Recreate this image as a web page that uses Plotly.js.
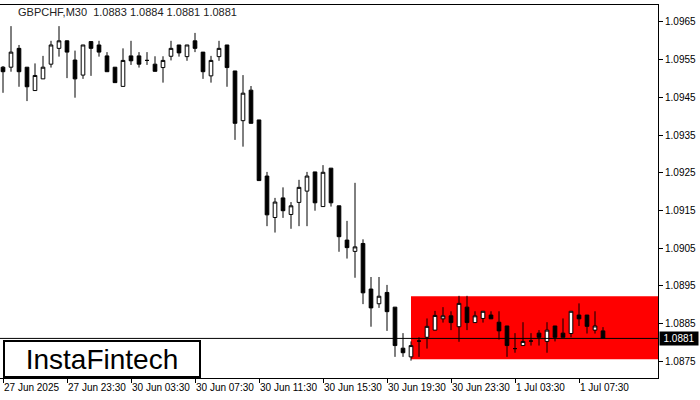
<!DOCTYPE html>
<html>
<head>
<meta charset="utf-8">
<script src="https://cdn.plot.ly/plotly-3.0.1.min.js"></script>
<style>html,body{margin:0;padding:0;background:#fff;}#chart{width:700px;height:400px;}</style>
</head>
<body>
<div id="chart"></div>
<script>
// bar index (M30 bars, first bar = 27 Jun 19:30)
const barIndex = Array.from({length: 76}, (_, i) => i);

const openPrices = [
  1.09530, 1.09530, 1.09580, 1.09530, 1.09468, 1.09499, 1.09538, 1.09580, 1.09600, 1.09549,
  1.09509, 1.09598, 1.09589, 1.09560, 1.09530, 1.09479, 1.09560, 1.09560, 1.09548, 1.09538,
  1.09529, 1.09559, 1.09589, 1.09558, 1.09600, 1.09570, 1.09507, 1.09558, 1.09589, 1.09520,
  1.09388, 1.09469, 1.09390, 1.09241, 1.09131, 1.09183, 1.09139, 1.09171, 1.09201, 1.09252,
  1.09160, 1.09262, 1.09162, 1.09071, 1.09041, 1.09062, 1.08941, 1.08902, 1.08932, 1.08893,
  1.08784, 1.08761, 1.08803, 1.08813, 1.08832, 1.08862, 1.08870, 1.08841, 1.08893, 1.08852,
  1.08863, 1.08872, 1.08853, 1.08843, 1.08783, 1.08791, 1.08803, 1.08824, 1.08802, 1.08843,
  1.08824, 1.08823, 1.08872, 1.08872, 1.08832, 1.08830
];
const highPrices = [
  1.09533, 1.09639, 1.09589, 1.09530, 1.09540, 1.09560, 1.09600, 1.09639, 1.09601, 1.09574,
  1.09589, 1.09598, 1.09600, 1.09570, 1.09530, 1.09580, 1.09600, 1.09570, 1.09570, 1.09559,
  1.09559, 1.09600, 1.09589, 1.09589, 1.09621, 1.09570, 1.09560, 1.09600, 1.09589, 1.09520,
  1.09509, 1.09480, 1.09390, 1.09252, 1.09183, 1.09211, 1.09172, 1.09231, 1.09252, 1.09252,
  1.09270, 1.09262, 1.09162, 1.09122, 1.09223, 1.09073, 1.08973, 1.08973, 1.08952, 1.08893,
  1.08824, 1.08802, 1.08813, 1.08863, 1.08883, 1.08893, 1.08882, 1.08923, 1.08923, 1.08882,
  1.08882, 1.08882, 1.08882, 1.08843, 1.08824, 1.08853, 1.08824, 1.08832, 1.08853, 1.08843,
  1.08863, 1.08882, 1.08903, 1.08872, 1.08882, 1.08840
];
const lowPrices = [
  1.09462, 1.09518, 1.09478, 1.09440, 1.09468, 1.09499, 1.09529, 1.09558, 1.09501, 1.09449,
  1.09499, 1.09507, 1.09558, 1.09518, 1.09489, 1.09479, 1.09536, 1.09529, 1.09536, 1.09519,
  1.09489, 1.09548, 1.09558, 1.09547, 1.09570, 1.09499, 1.09489, 1.09547, 1.09478, 1.09337,
  1.09319, 1.09381, 1.09229, 1.09108, 1.09091, 1.09130, 1.09101, 1.09108, 1.09108, 1.09149,
  1.09160, 1.09160, 1.09040, 1.09022, 1.08971, 1.08901, 1.08841, 1.08891, 1.08830, 1.08761,
  1.08761, 1.08751, 1.08761, 1.08783, 1.08832, 1.08852, 1.08832, 1.08801, 1.08832, 1.08852,
  1.08852, 1.08862, 1.08807, 1.08761, 1.08772, 1.08791, 1.08791, 1.08791, 1.08772, 1.08802,
  1.08813, 1.08813, 1.08843, 1.08823, 1.08823, 1.08810
];
const closePrices = [
  1.09518, 1.09570, 1.09518, 1.09478, 1.09508, 1.09530, 1.09589, 1.09600, 1.09570, 1.09499,
  1.09589, 1.09580, 1.09570, 1.09518, 1.09489, 1.09548, 1.09547, 1.09538, 1.09548, 1.09519,
  1.09548, 1.09580, 1.09568, 1.09589, 1.09580, 1.09518, 1.09548, 1.09580, 1.09529, 1.09381,
  1.09461, 1.09381, 1.09229, 1.09138, 1.09172, 1.09149, 1.09162, 1.09211, 1.09241, 1.09170,
  1.09251, 1.09170, 1.09080, 1.09051, 1.09053, 1.08931, 1.08891, 1.08922, 1.08881, 1.08791,
  1.08772, 1.08791, 1.08803, 1.08842, 1.08871, 1.08870, 1.08852, 1.08903, 1.08852, 1.08870,
  1.08882, 1.08862, 1.08830, 1.08791, 1.08783, 1.08802, 1.08803, 1.08813, 1.08832, 1.08813,
  1.08813, 1.08882, 1.08862, 1.08842, 1.08843, 1.08810
];

const xTickIndex = [0, 8, 16, 24, 32, 40, 48, 56, 64, 72];
const xTickLabels = ["27 Jun 2025", "27 Jun 23:30", "30 Jun 03:30", "30 Jun 07:30", "30 Jun 11:30",
                     "30 Jun 15:30", "30 Jun 19:30", "30 Jun 23:30", "1 Jul 03:30", "1 Jul 07:30"];
const yTickValues = [1.0875, 1.0885, 1.0895, 1.0905, 1.0915, 1.0925, 1.0935, 1.0945, 1.0955, 1.0965];

const titleText = "GBPCHF,M30  1.0883 1.0884 1.0881 1.0881";
const currentPrice = 1.0881;
const zoneTop = 1.08922;
const zoneBottom = 1.08755;
const zoneStartIndex = 51;
const logoText = "InstaFintech";

const FONT = '"Liberation Sans Narrow", "Arial Narrow", "Liberation Sans", Arial, sans-serif';

const trace = {
  type: 'candlestick',
  x: barIndex,
  open: openPrices,
  high: highPrices,
  low: lowPrices,
  close: closePrices,
  increasing: {line: {color: '#000', width: 1}, fillcolor: '#ffffff'},
  decreasing: {line: {color: '#000', width: 1}, fillcolor: '#000000'},
  whiskerwidth: 0,
  hoverinfo: 'skip',
  showlegend: false
};

const xMin = -0.375, xMax = 81.875;

const layout = {
  width: 700, height: 400,
  margin: {l: 0, r: 42, t: 5, b: 22},
  paper_bgcolor: '#ffffff',
  plot_bgcolor: '#ffffff',
  boxgap: 0.35,
  showlegend: false,
  title: {
    text: titleText,
    font: {family: FONT, size: 11, color: '#222'},
    x: 18/700, xanchor: 'left', xref: 'container',
    y: 1 - 12/400, yanchor: 'middle', yref: 'container'
  },
  xaxis: {
    type: 'linear',
    range: [xMin, xMax],
    rangeslider: {visible: false},
    showgrid: false, zeroline: false,
    showline: true, mirror: true, linecolor: '#000', linewidth: 1,
    tickmode: 'array', tickvals: xTickIndex, ticktext: xTickLabels,
    ticks: 'outside', ticklen: 4, tickcolor: '#000', tickwidth: 1,
    ticklabelposition: 'outside right',
    tickangle: 0,
    tickfont: {family: FONT, size: 10, color: '#000'},
    fixedrange: true
  },
  yaxis: {
    side: 'right',
    range: [1.087049, 1.096951],
    showgrid: false, zeroline: false,
    showline: true, mirror: true, linecolor: '#000', linewidth: 1,
    tickmode: 'array', tickvals: yTickValues,
    ticktext: yTickValues.map(v => v.toFixed(4)),
    ticks: 'outside', ticklen: 4, tickcolor: '#000', tickwidth: 1,
    tickfont: {family: FONT, size: 10, color: '#000'},
    fixedrange: true
  },
  shapes: [
    {type: 'rect', xref: 'x', yref: 'y', x0: zoneStartIndex, x1: xMax, y0: zoneBottom, y1: zoneTop,
     fillcolor: '#ff0000', line: {width: 0}, layer: 'below'},
    {type: 'line', xref: 'paper', yref: 'y', x0: 0, x1: 1, y0: currentPrice, y1: currentPrice,
     line: {color: '#000', width: 1}, layer: 'above'}
  ],
  annotations: [
    {xref: 'paper', yref: 'y', x: 1, y: currentPrice, xanchor: 'left', yanchor: 'middle',
     xshift: 1, text: currentPrice.toFixed(4), showarrow: false,
     bgcolor: '#000', borderpad: 1, width: 36, align: 'center',
     font: {family: FONT, size: 10, color: '#fff'}},
    {xref: 'paper', yref: 'paper', x: 3/658, y: 0, xanchor: 'left', yanchor: 'bottom',
     text: logoText, showarrow: false, bgcolor: '#fff', bordercolor: '#000', borderwidth: 2,
     borderpad: 0, width: 194, height: 34, align: 'center',
     font: {family: '"Liberation Sans", Arial, sans-serif', size: 28, color: '#000'}}
  ]
};

Plotly.newPlot('chart', [trace], layout, {staticPlot: true, displayModeBar: false});
</script>
</body>
</html>
